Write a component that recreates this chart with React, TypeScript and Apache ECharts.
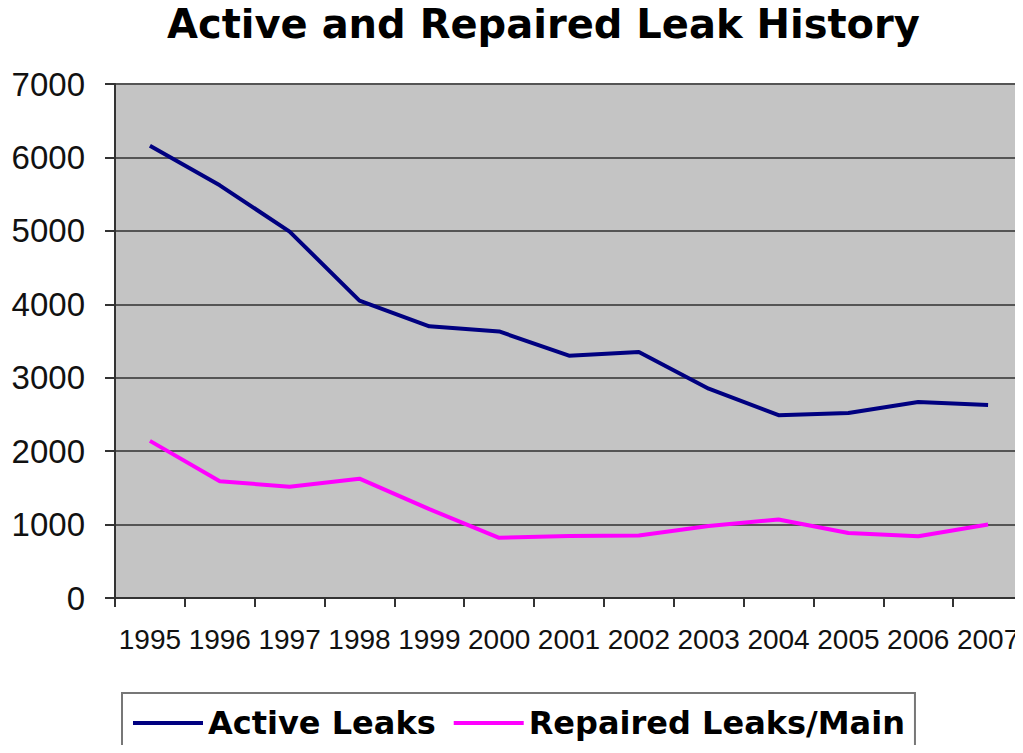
import React, { useEffect, useRef } from "react";
import * as echarts from "echarts";

const years = ["1995", "1996", "1997", "1998", "1999", "2000", "2001", "2002", "2003", "2004", "2005", "2006", "2007"];
const activeLeaks = [6160, 5620, 4990, 4050, 3700, 3630, 3300, 3350, 2850, 2490, 2520, 2670, 2630];
const repairedLeaks = [2140, 1590, 1515, 1625, 1210, 820, 845, 850, 980, 1070, 885, 840, 1000];
const yTicks = { min: 0, max: 7000, interval: 1000 };

export default function App() {
  const ref = useRef<HTMLDivElement>(null);
  useEffect(() => {
    if (!ref.current) return;
    const chart = echarts.init(ref.current, undefined, { renderer: "svg" });
    chart.setOption({
      animation: false,
      backgroundColor: "#ffffff",
      title: {
        text: "Active and Repaired Leak History",
        left: 167,
        top: 4,
        padding: 0,
        textStyle: { fontFamily: "DejaVu Sans", fontWeight: "bold", fontSize: 40, color: "#000" },
      },
      legend: {
        left: 122,
        top: 693,
        padding: [14, 10, 30, 11],
        itemWidth: 70,
        itemHeight: 4,
        itemGap: 18,
        icon: "rect",
        backgroundColor: "#ffffff",
        borderColor: "#777",
        borderWidth: 2,
        borderRadius: 0,
        textStyle: { fontFamily: "DejaVu Sans", fontWeight: "bold", fontSize: 32, color: "#000" },
        data: ["Active Leaks", "Repaired Leaks/Main"],
      },
      grid: {
        left: 115,
        top: 84,
        width: 908,
        bottom: 155,
        show: true,
        backgroundColor: "#c4c4c4",
        borderWidth: 0,
        containLabel: false,
        outerBoundsMode: "none",
      },
      xAxis: {
        type: "category",
        data: years,
        boundaryGap: true,
        axisLine: { lineStyle: { color: "#333", width: 2 } },
        axisTick: { show: true, length: 9, interval: 0, lineStyle: { color: "#333", width: 2 } },
        axisLabel: {
          interval: 0,
          hideOverlap: false,
          margin: 27,
          fontFamily: "Liberation Sans",
          fontSize: 28,
          color: "#111",
        },
        splitLine: { show: false },
      },
      yAxis: {
        type: "value",
        min: yTicks.min,
        max: yTicks.max,
        interval: yTicks.interval,
        axisLine: { show: true, lineStyle: { color: "#333", width: 2 } },
        axisTick: { show: true, length: 10, lineStyle: { color: "#333", width: 2 } },
        axisLabel: {
          margin: 30,
          fontFamily: "Liberation Sans",
          fontSize: 33,
          color: "#111",
          formatter: (v: number) => String(v),
        },
        splitLine: { show: true, lineStyle: { color: "#555", width: 2 } },
      },
      series: [
        {
          name: "Active Leaks",
          type: "line",
          data: activeLeaks,
          symbol: "none",
          lineStyle: { color: "#000080", width: 4 },
          itemStyle: { color: "#000080" },
        },
        {
          name: "Repaired Leaks/Main",
          type: "line",
          data: repairedLeaks,
          symbol: "none",
          lineStyle: { color: "#ff00ff", width: 4 },
          itemStyle: { color: "#ff00ff" },
        },
      ],
    });
    return () => chart.dispose();
  }, []);
  return <div ref={ref} style={{ width: 1023, height: 753, margin: -8 }} />;
}
